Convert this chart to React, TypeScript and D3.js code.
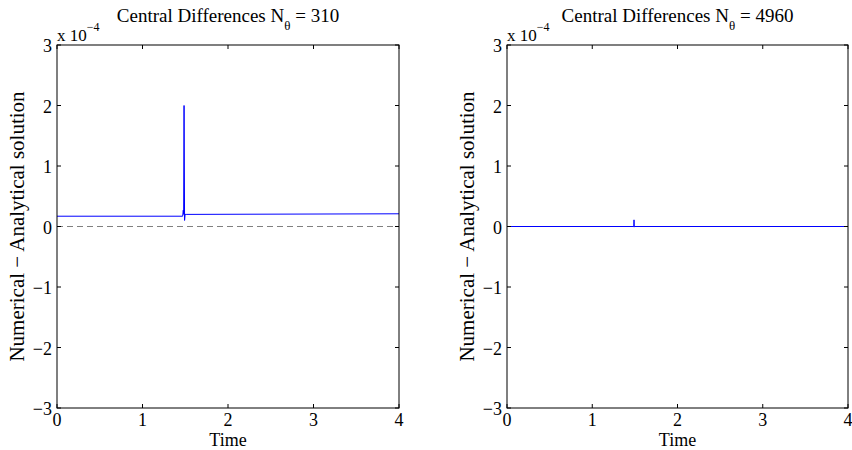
import React from "react";
import * as d3 from "d3";

// values in units of 1e-4
const leftTimes = [0, 1.47, 1.477, 1.481, 1.486, 1.492, 1.498, 1.51, 4];
const leftValues = [0.17, 0.17, 0.27, 0.2, 2.0, 0.1, 0.2, 0.2, 0.21];
const rightTimes = [0, 1.488, 1.49, 1.492, 1.494, 4];
const rightValues = [0, 0, 0.11, -0.01, 0, 0];
const xTicks = [0, 1, 2, 3, 4];
const yTicks = [-3, -2, -1, 0, 1, 2, 3];
const titles = ["310", "4960"];

const W = 852;
const H = 450;
const FONT = "Liberation Serif";

function Panel({ x0, x1, times, values, n }: { x0: number; x1: number; times: number[]; values: number[]; n: string }) {
  const top = 45;
  const bottom = 408;
  const x = d3.scaleLinear().domain([0, 4]).range([x0, x1]);
  const y = d3.scaleLinear().domain([-3, 3]).range([bottom, top]);
  const pts: [number, number][] = times.map((t, i) => [t, values[i]]);
  const line = d3
    .line<[number, number]>()
    .x((d) => x(d[0]))
    .y((d) => y(d[1]));
  const cx = (x0 + x1) / 2;
  const tl = 4;
  return (
    <g style={{ fontFamily: FONT }} fill="#000">
      <line x1={x0} x2={x1} y1={y(0)} y2={y(0)} stroke="#808080" strokeWidth={1} strokeDasharray="6,4" />
      <path d={line(pts) || ""} fill="none" stroke="#0000ff" strokeWidth={1} />
      <rect x={x0} y={top} width={x1 - x0} height={bottom - top} fill="none" stroke="#000" strokeWidth={1} />
      {xTicks.map((t) => (
        <g key={"x" + t}>
          <line x1={x(t)} x2={x(t)} y1={bottom} y2={bottom - tl} stroke="#000" />
          <line x1={x(t)} x2={x(t)} y1={top} y2={top + tl} stroke="#000" />
          <text x={x(t)} y={426} fontSize={18} textAnchor="middle">
            {t}
          </text>
        </g>
      ))}
      {yTicks.map((t) => (
        <g key={"y" + t}>
          <line x1={x0} x2={x0 + tl} y1={y(t)} y2={y(t)} stroke="#000" />
          <line x1={x1} x2={x1 - tl} y1={y(t)} y2={y(t)} stroke="#000" />
          <text x={x0 - 5} y={y(t) + 7} fontSize={18} textAnchor="end">
            {t < 0 ? "\u2212" + Math.abs(t) : t}
          </text>
        </g>
      ))}
      <text x={x0} y={40.5} fontSize={17}>
        x 10
        <tspan dy={-10} fontSize={12}>
          {"\u22124"}
        </tspan>
      </text>
      <text x={cx} y={22} fontSize={19} textAnchor="middle">
        Central Differences N
        <tspan dy={8} fontSize={13}>θ</tspan>
        <tspan dy={-8}>{" = " + n}</tspan>
      </text>
      <text x={cx} y={446} fontSize={18} textAnchor="middle">
        Time
      </text>
      <text
        transform={`translate(${x0 - 33},${(top + bottom) / 2}) rotate(-90)`}
        fontSize={21}
        textAnchor="middle"
      >
        Numerical − Analytical solution
      </text>
    </g>
  );
}

export default function App() {
  return (
    <svg
      width={W}
      height={H}
      style={{ position: "absolute", left: 0, top: 0, background: "#fff" }}
    >
      <rect width={W} height={H} fill="#fff" />
      <Panel x0={57} x1={399} times={leftTimes} values={leftValues} n={titles[0]} />
      <Panel x0={507} x1={848} times={rightTimes} values={rightValues} n={titles[1]} />
    </svg>
  );
}
